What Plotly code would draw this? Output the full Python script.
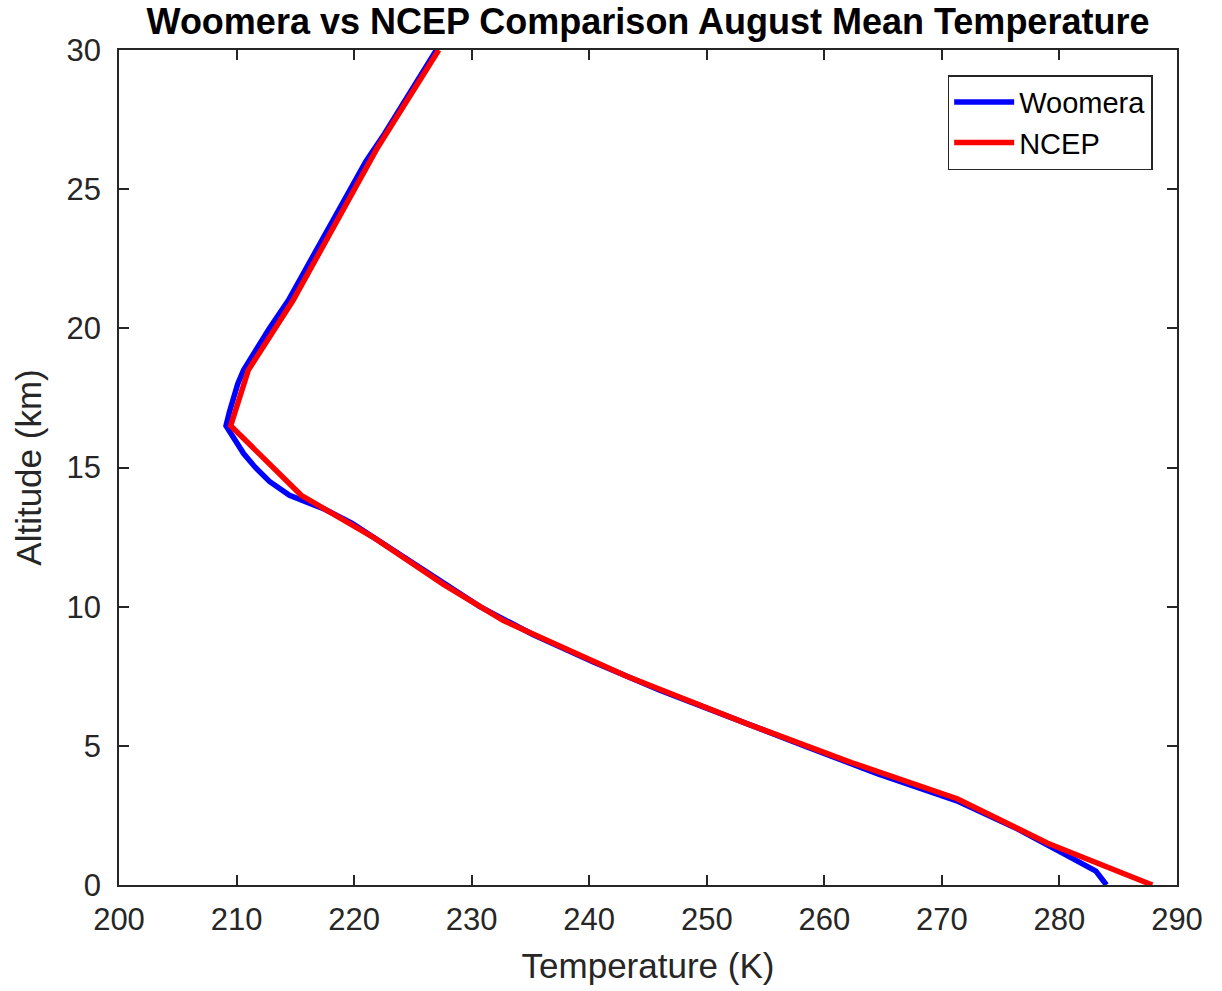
import plotly.graph_objects as go

# Woomera radiosonde mean profile (August)
woomera_alt = [0, 0.5, 1.0, 1.5, 2.0, 3.0, 4.0, 5.0, 6.0, 7.0, 8.0, 9.0, 10.0, 11.0, 12.0,
               13.0, 13.5, 14.0, 14.5, 15.0, 15.5, 16.0, 16.5, 17.0, 18.0, 18.5, 19.0, 20.0,
               21.0, 22.0, 23.0, 24.0, 25.0, 26.0, 27.0, 28.0, 29.0, 30.0]
woomera_temp = [284.0, 283.1, 280.9, 278.6, 276.5, 271.4, 264.5, 258.3, 252.0, 246.0, 240.4,
                235.2, 230.7, 227.0, 223.4, 219.8, 217.5, 214.5, 212.8, 211.6, 210.6, 209.8,
                209.1, 209.4, 210.1, 210.6, 211.3, 212.8, 214.4, 215.7, 217.0, 218.4, 219.7,
                221.0, 222.6, 224.1, 225.6, 227.0]

# NCEP reanalysis mean profile (August)
ncep_alt = [0, 0.8, 1.5, 3.1, 4.4, 5.8, 7.5, 9.5, 10.8, 12.5, 14.0, 16.5, 18.5, 21.0, 24.0, 26.5, 30.0]
ncep_temp = [287.9, 283.0, 279.0, 271.3, 262.3, 253.4, 243.2, 232.7, 227.6, 221.6, 215.5,
             209.5, 211.0, 214.8, 218.7, 222.0, 227.2]

x_ticks = [200, 210, 220, 230, 240, 250, 260, 270, 280, 290]
y_ticks = [0, 5, 10, 15, 20, 25, 30]

FONT = "Liberation Sans, Arial, Helvetica, sans-serif"
AXC = "#262626"

fig = go.Figure()
fig.add_trace(go.Scatter(x=woomera_temp, y=woomera_alt, mode="lines", name="Woomera",
                         line=dict(color="#0000FF", width=5.5)))
fig.add_trace(go.Scatter(x=ncep_temp, y=ncep_alt, mode="lines", name="NCEP",
                         line=dict(color="#FF0000", width=5.5)))

axis_common = dict(showline=True, linecolor=AXC, linewidth=1.5, mirror="ticks",
                   ticks="inside", ticklen=10, tickwidth=1.5, tickcolor=AXC,
                   showgrid=False, zeroline=False,
                   tickfont=dict(family=FONT, size=31, color=AXC))

fig.update_layout(
    width=1222, height=991,
    paper_bgcolor="white", plot_bgcolor="white",
    margin=dict(l=119, r=45, t=50, b=106),
    title=dict(text="<b>Woomera vs NCEP Comparison August Mean Temperature</b>",
               font=dict(family=FONT, size=36, color="black"),
               x=0.5, xanchor="center", xref="paper", y=0.978, yanchor="middle"),
    xaxis=dict(range=[200, 290], tickvals=x_ticks, ticklabelstandoff=6,
               title=dict(text="Temperature (K)", standoff=18,
                          font=dict(family=FONT, size=35, color=AXC)),
               **axis_common),
    yaxis=dict(range=[0, 30], tickvals=y_ticks, ticklabelstandoff=10,
               title=dict(text="Altitude (km)", standoff=14,
                          font=dict(family=FONT, size=35, color=AXC)),
               **axis_common),
    legend=dict(x=0.977, y=0.97, xanchor="right", yanchor="top",
                bgcolor="white", bordercolor=AXC, borderwidth=1.5,
                font=dict(family=FONT, size=29, color="black"),
                itemwidth=60, tracegroupgap=0),
    showlegend=True,
)

fig.write_html("out.html")
